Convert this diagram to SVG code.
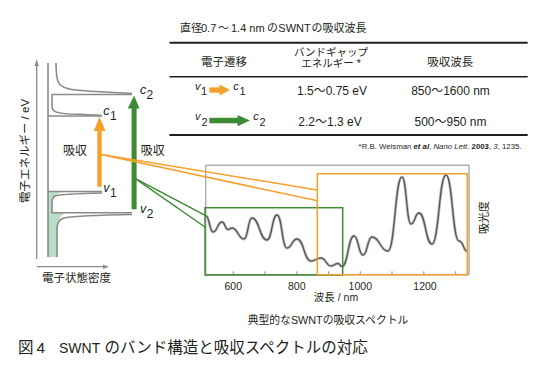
<svg xmlns="http://www.w3.org/2000/svg" width="546" height="369" viewBox="0 0 546 369">
<style>
text{font-family:"Liberation Sans","Noto Sans CJK JP",sans-serif;fill:#231f20}
.dos{fill:none;stroke:#8a8a8a;stroke-width:1.6}
.ax{fill:none;stroke:#8c8c8c;stroke-width:1.3}
.or{fill:#f5a02c}
.gr{fill:#3e8a35}
.orl{fill:none;stroke:#f5a02c;stroke-width:1.5}
.grl{fill:none;stroke:#3e8a35;stroke-width:1.5}
.it{font-style:italic}
</style>
<rect width="546" height="369" fill="#fff"/>

<g id="band-diagram">
  <line class="ax" x1="36.7" y1="259" x2="36.7" y2="64"/>
  <polygon points="34.5,66 36.7,59 38.9,66" fill="#8c8c8c"/>
  <line class="ax" x1="36.7" y1="266.7" x2="104" y2="266.7"/>
  <polygon points="103,264.5 109,266.7 103,268.9" fill="#8c8c8c"/>
  <text x="25" y="151" font-size="11.5" text-anchor="middle" dominant-baseline="central" transform="rotate(-90 25 151)">電子エネルギー / eV</text>
  <text x="76.5" y="282" font-size="11.5" text-anchor="middle">電子状態密度</text>
  <path d="M48,192 H62 C55,194 52,197 52,203 V213 H64 C58,219 57,224 57,230 V257 H48 Z" fill="#b7dec6"/>
  <line class="dos" x1="48" y1="63" x2="48" y2="257"/>
  <path class="dos" d="M56,63 C56,84 58,88 75,90 C95,92 120,92.5 132,93.5"/>
  <path class="dos" d="M132,94.5 H52 V106 C52,112 56,113 70,114 C85,114.5 95,115 102,115.5"/>
  <line class="dos" x1="48" y1="116" x2="102" y2="116"/>
  <line class="dos" x1="48" y1="191.5" x2="102" y2="191.5"/>
  <path class="dos" d="M102,193 C80,193.5 60,194 55,196 C52,198 52,200 52,203 V212.7 H132"/>
  <path class="dos" d="M132,214.5 C100,215 75,216 64,218 C58,220 57,224 57,230 V257"/>
  <text x="140" y="94" font-size="12.5" class="it">c</text><text x="146.5" y="99" font-size="12">2</text>
  <text x="103.3" y="115" font-size="12.5" class="it">c</text><text x="110" y="119.5" font-size="12">1</text>
  <text x="103.3" y="191.7" font-size="12.5" class="it">v</text><text x="110" y="196.7" font-size="12">1</text>
  <text x="140" y="212.7" font-size="12.5" class="it">v</text><text x="146.7" y="218" font-size="12">2</text>
  <text x="75" y="155" font-size="12" text-anchor="middle">吸収</text>
  <text x="152.8" y="155" font-size="12" text-anchor="middle">吸収</text>
</g>

<g id="arrow-v1-c1">
  <rect class="or" x="97.3" y="129" width="4.4" height="57.7"/>
  <polygon class="or" points="93.8,131 99.5,117 105.5,131"/>
</g>
<g id="arrow-v2-c2">
  <rect class="gr" x="131.6" y="106" width="5" height="103.3"/>
  <polygon class="gr" points="127.7,108.5 134.1,95.5 139.5,108.5"/>
</g>

<g id="table">
  <text font-size="11"><tspan x="180" y="32">直径</tspan><tspan x="201" y="32">0.7</tspan><tspan x="218" y="32">〜</tspan><tspan x="231" y="32">1.4 nm</tspan><tspan x="267" y="32">の</tspan><tspan x="278.3" y="32">SWNT</tspan><tspan x="311.5" y="32">の吸収波長</tspan></text>
  <line x1="169.5" y1="42.7" x2="527.7" y2="42.7" stroke="#231f20" stroke-width="2"/>
  <line x1="169.5" y1="76.7" x2="527.7" y2="76.7" stroke="#231f20" stroke-width="1.4"/>
  <line x1="169.5" y1="135" x2="527.7" y2="135" stroke="#231f20" stroke-width="2"/>
  <text x="224" y="65.5" font-size="11.5" text-anchor="middle">電子遷移</text>
  <text x="331" y="55.5" font-size="10.5" text-anchor="middle">バンドギャップ</text>
  <text x="331" y="67" font-size="10.5" text-anchor="middle">エネルギー *</text>
  <text x="450.3" y="65.5" font-size="11.5" text-anchor="middle">吸収波長</text>
  <text x="195" y="90" font-size="11" class="it">v</text><text x="201" y="95" font-size="11">1</text>
  <rect class="or" x="209.3" y="87.4" width="11" height="5.3"/>
  <polygon class="or" points="219.5,84.6 230,90 219.5,95.4"/>
  <text x="233.3" y="90" font-size="11" class="it">c</text><text x="239.5" y="95" font-size="11">1</text>
  <text x="332" y="95" font-size="12" text-anchor="middle">1.5〜0.75 eV</text>
  <text x="450.5" y="95" font-size="12" text-anchor="middle">850〜1600 nm</text>
  <text x="195" y="120" font-size="11" class="it">v</text><text x="201.5" y="126" font-size="11">2</text>
  <rect class="gr" x="209.3" y="117.8" width="29" height="5.5"/>
  <polygon class="gr" points="237.5,115 250,120.5 237.5,126.3"/>
  <text x="253.3" y="120" font-size="11" class="it">c</text><text x="259.5" y="126" font-size="11">2</text>
  <text x="330" y="126" font-size="12" text-anchor="middle">2.2〜1.3 eV</text>
  <text x="450.5" y="126" font-size="12" text-anchor="middle">500〜950 nm</text>
  <text x="521.5" y="148.5" font-size="7.8" text-anchor="end">*R.B. Weisman <tspan font-style="italic" font-weight="bold">et al</tspan>, <tspan font-style="italic">Nano Lett.</tspan> <tspan font-weight="bold">2003</tspan>, <tspan font-style="italic">3</tspan>, 1235.</text>
</g>

<g id="spectrum">
  <rect x="205.7" y="165.3" width="263.3" height="109.4" fill="none" stroke="#b0b0b0" stroke-width="1.5"/>
  <path d="M233.3,274.7v-3.5M265,274.7v-3.5M296.8,274.7v-3.5M328.6,274.7v-3.5M360.3,274.7v-3.5M392,274.7v-3.5M423.8,274.7v-3.5M455.6,274.7v-3.5" stroke="#a0a0a0" stroke-width="1.2"/>
  <path fill="none" stroke="#c8c8c8" stroke-width="3" stroke-linejoin="round" d="M206,216 C209.5,216 209.5,232 213,232 C217.5,232 217.5,222 222,222 C225,222 225,229.5 228,229.5 C230,229.5 230,228 232,228 C238,228 238,239 244,239 C248,239 248,218 252,218 C259.5,218 259.5,240 267,240 C272,240 272,215 277,215 C282,215 282,248 287,248 C292,248 292,239 297,239 C304,239 304,261 311,261 C316,261 316,258 321,258 C326,258 326,266 331,266 C334.5,266 334.5,263.5 338,263.5 C340,263.5 340,266.5 342,266.5 C348,266.5 348,236 354,236 C358.5,236 358.5,255 363,255 C367.5,255 367.5,237 372,237 C380,237 380,251 388,251 C395,251 395,177 402,177 C406.5,177 406.5,224 411,224 C415,224 415,213 419,213 C425.5,213 425.5,244 432,244 C439,244 439,175 446,175 C452.5,175 452.5,241 459,241 C463.5,241 463.5,252 468,252"/>
  <path fill="none" stroke="#5a5a5a" stroke-width="1.4" stroke-linejoin="round" d="M206,216 C209.5,216 209.5,232 213,232 C217.5,232 217.5,222 222,222 C225,222 225,229.5 228,229.5 C230,229.5 230,228 232,228 C238,228 238,239 244,239 C248,239 248,218 252,218 C259.5,218 259.5,240 267,240 C272,240 272,215 277,215 C282,215 282,248 287,248 C292,248 292,239 297,239 C304,239 304,261 311,261 C316,261 316,258 321,258 C326,258 326,266 331,266 C334.5,266 334.5,263.5 338,263.5 C340,263.5 340,266.5 342,266.5 C348,266.5 348,236 354,236 C358.5,236 358.5,255 363,255 C367.5,255 367.5,237 372,237 C380,237 380,251 388,251 C395,251 395,177 402,177 C406.5,177 406.5,224 411,224 C415,224 415,213 419,213 C425.5,213 425.5,244 432,244 C439,244 439,175 446,175 C452.5,175 452.5,241 459,241 C463.5,241 463.5,252 468,252"/>
  <text font-size="10.5" text-anchor="middle"><tspan x="233.3" y="289.5">600</tspan><tspan x="296.8" y="289.5">800</tspan><tspan x="360.3" y="289.5">1000</tspan><tspan x="425" y="289.5">1200</tspan></text>
  <text x="336" y="300.5" font-size="10.5" text-anchor="middle">波長 / nm</text>
  <text x="484" y="217.5" font-size="11" text-anchor="middle" dominant-baseline="central" transform="rotate(-90 484 217.5)">吸光度</text>
  <text x="328" y="323.5" font-size="10.8" text-anchor="middle">典型的なSWNTの吸収スペクトル</text>
</g>

<g id="range-600-950">
  <rect x="205" y="207.7" width="137.7" height="67.3" fill="none" stroke="#3e8a35" stroke-width="1.5"/>
</g>
<g id="range-850-1600">
  <rect x="317.3" y="173.7" width="150" height="101" fill="none" stroke="#f5a02c" stroke-width="1.5"/>
</g>

<g id="connectors">
  <line class="grl" x1="135" y1="178.3" x2="205.7" y2="215.7"/>
  <line class="grl" x1="135" y1="178.3" x2="205.7" y2="227.5"/>
  <line class="orl" x1="100" y1="154.3" x2="317.3" y2="190"/>
  <line class="orl" x1="100" y1="154.3" x2="317.3" y2="200.7"/>
</g>

<text font-size="15.5" fill="#333"><tspan x="18" y="353">図</tspan><tspan x="36.5" y="353">4</tspan><tspan x="59" y="353" font-size="14">SWNT</tspan><tspan x="104.5" y="353">のバンド構造と吸収スペクトルの対応</tspan></text>
</svg>
